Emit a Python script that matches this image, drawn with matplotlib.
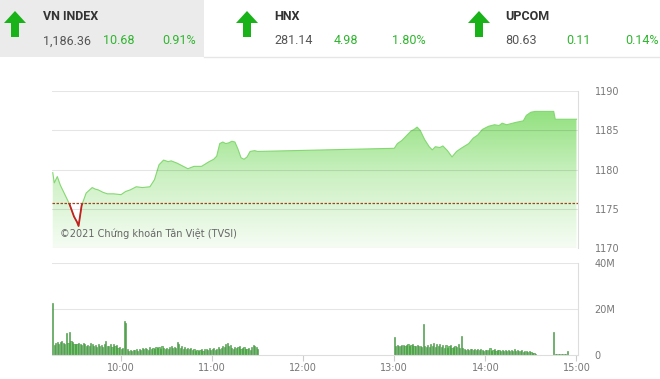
import numpy as np
import matplotlib.pyplot as plt
from matplotlib.colors import LinearSegmentedColormap
from matplotlib.patches import Polygon, Rectangle

# header indexes
idx_names = ['VN INDEX', 'HNX', 'UPCOM']
idx_values = ['1,186.36', '281.14', '80.63']
idx_changes = ['10.68', '4.98', '0.11']
idx_pcts = ['0.91%', '1.80%', '0.14%']

# VN-Index intraday (time, points)
price_times = ['09:15', '09:16', '09:18', '09:20', '09:23', '09:26', '09:29', '09:31', '09:32',
               '09:34', '09:37', '09:41', '09:43', '09:45', '09:48', '09:51', '09:55', '10:00',
               '10:03', '10:06', '10:10', '10:14', '10:19', '10:22', '10:25', '10:28', '10:31',
               '10:33', '10:37', '10:40', '10:44', '10:48', '10:53', '10:58', '11:01', '11:03',
               '11:05', '11:07', '11:09', '11:11', '11:13', '11:15', '11:17', '11:19', '11:21',
               '11:23', '11:25', '11:28', '11:30', '13:00', '13:02', '13:05', '13:08', '13:11',
               '13:13', '13:15', '13:17', '13:20', '13:23', '13:25', '13:27', '13:30', '13:32',
               '13:35', '13:38', '13:41', '13:44', '13:49', '13:52', '13:55', '13:58', '14:02',
               '14:06', '14:09', '14:11', '14:14', '14:16', '14:20', '14:25', '14:27', '14:30',
               '14:33', '14:45', '14:46', '15:00']
prices = [1179.6, 1178.3, 1179.1, 1178.0, 1176.8, 1175.6, 1174.0, 1173.3, 1172.8,
          1175.4, 1177.0, 1177.7, 1177.5, 1177.4, 1177.1, 1176.9, 1176.9, 1176.8,
          1177.2, 1177.4, 1177.8, 1177.7, 1177.8, 1178.7, 1180.6, 1181.2, 1181.0,
          1181.1, 1180.8, 1180.5, 1180.1, 1180.4, 1180.4, 1181.0, 1181.3, 1181.7,
          1183.3, 1183.5, 1183.3, 1183.4, 1183.6, 1183.5, 1182.6, 1181.5, 1181.3,
          1181.6, 1182.3, 1182.4, 1182.3, 1182.7, 1183.3, 1183.7, 1184.3, 1184.9,
          1185.1, 1185.4, 1185.0, 1183.8, 1182.9, 1182.5, 1182.9, 1182.8, 1183.0,
          1182.4, 1181.6, 1182.3, 1182.7, 1183.3, 1184.0, 1184.4, 1185.1, 1185.5,
          1185.7, 1185.6, 1185.9, 1185.7, 1185.8, 1186.0, 1186.2, 1186.9, 1187.3,
          1187.4, 1187.4, 1186.4, 1186.4]
ref_price = 1175.68

# volume per minute (millions)
vol_am_start = '09:15'
vol_am = [22.7, 4.5, 5.2, 5.8, 4.6, 5.5, 6.0, 5.3, 4.8, 9.6, 5.4, 9.9, 6.2, 5.5, 4.8,
          5.0, 4.6, 5.4, 4.8, 4.4, 5.2, 4.9, 3.8, 4.2, 4.0, 5.1, 4.6, 3.9, 4.3, 3.6,
          4.8, 3.9, 4.4, 3.5, 4.7, 6.2, 3.8, 4.1, 5.0, 3.4, 4.6, 3.9, 4.2, 3.1, 3.5,
          2.6, 3.0, 14.9, 13.8, 2.4, 1.9, 2.2, 1.8, 2.3, 2.0, 2.5, 1.9, 2.6, 2.2, 2.9,
          2.4, 3.1, 2.6, 2.2, 3.4, 2.8, 3.0, 2.5, 3.6, 2.9, 3.3, 2.4, 3.8, 3.1, 2.7,
          3.2, 2.8, 3.5, 4.1, 2.9, 3.6, 3.0, 5.6, 4.8, 3.2, 3.7, 2.8, 3.3, 2.6, 3.0,
          2.4, 2.9, 2.1, 2.6, 1.9, 2.3, 1.7, 2.2, 2.5, 1.8, 2.7, 2.4, 2.0, 2.9, 2.3,
          2.6, 3.2, 2.1, 2.8, 3.5, 2.5, 3.0, 4.1, 3.3, 4.8, 5.2, 3.9, 4.4, 3.2, 2.7,
          3.6, 2.9, 3.4, 3.8, 2.6, 3.1, 3.5, 2.8, 2.4, 3.0, 2.2, 3.6, 4.3, 4.0, 3.3,
          2.5]
vol_pm_start = '13:00'
vol_pm = [8.0, 3.9, 4.4, 4.1, 3.8, 4.2, 4.5, 3.9, 4.3, 4.6, 4.0, 4.4, 4.7, 4.1, 3.8,
          4.3, 3.7, 4.0, 3.6, 13.5, 3.9, 3.4, 4.2, 3.5, 4.8, 3.7, 5.1, 3.3, 4.6, 3.9,
          4.9, 3.5, 4.2, 3.1, 4.4, 3.2, 3.8, 4.3, 3.0, 3.6, 4.1, 3.4, 4.7, 3.2, 8.3,
          3.1, 2.6, 2.3, 2.8, 2.2, 2.5, 2.4, 2.1, 2.6, 2.3, 2.5, 2.0, 2.4, 2.2, 1.9,
          2.3, 2.0, 2.2, 3.0, 1.9, 2.1, 2.4, 1.8, 2.2, 2.0, 1.9, 2.3, 1.7, 2.1, 1.8,
          2.0, 1.9, 2.2, 1.6, 2.4, 1.8, 2.1, 1.7, 1.9, 2.2, 1.5, 1.8, 1.6, 1.4, 1.7,
          1.2, 1.0, 0.8, 0.6]
vol_atc_start = '14:45'
vol_atc = [9.9, 0.4, 0.3, 0.4, 0.3, 0.3, 0.4, 0.3, 0.3, 1.9, 0.2]

time_ticks = ['10:00', '11:00', '12:00', '13:00', '14:00', '15:00']


def to_min(s):
    h, m = s.split(':')
    return int(h) * 60 + int(m)


t = np.array([to_min(s) for s in price_times])
p = np.array(prices)

W, H = 660, 379
fig = plt.figure(figsize=(6.6, 3.79), dpi=100)


def px_axes(x0, y0, x1, y1):
    return fig.add_axes([x0 / W, 1 - y1 / H, (x1 - x0) / W, (y1 - y0) / H])


xmin, xmax = to_min('09:15') - 0.5, to_min('15:00') + 1
grid_c = (0, 0, 0, 0.1)
lab_c = '#777777'

# ---- header ----
hd = fig.add_axes([0, 0, 1, 1], zorder=-1)
hd.set_xlim(0, W)
hd.set_ylim(H, 0)
hd.axis('off')
hd.add_patch(Rectangle((0, 0), 204, 57, color='#ebebeb', lw=0))
hd.plot([204, W], [57, 57], color='#e6e6e6', lw=1)
green = '#19b319'
hfont = ['Liberation Sans Narrow', 'Roboto']
arrow_x = [15, 247, 479]
text_x = [43, 274, 505]
chg_x = [103, 334, 566]
pct_x = [162, 392, 625]
for i in range(3):
    cx = arrow_x[i]
    hd.add_patch(Polygon([(cx, 11), (cx + 11, 23), (cx + 4, 23), (cx + 4, 37),
                          (cx - 4, 37), (cx - 4, 23), (cx - 11, 23)],
                         closed=True, color=green, lw=0))
    hd.text(text_x[i], 16, idx_names[i], fontsize=9, fontweight='bold', color='#333333',
            va='center', ha='left', family=hfont)
    hd.text(text_x[i], 41, idx_values[i], fontsize=9, color='#555555',
            va='center', ha='left', family=hfont)
    hd.text(chg_x[i], 41, idx_changes[i], fontsize=9, color='#2fb52f',
            va='center', ha='left', family=hfont)
    hd.text(pct_x[i], 41, idx_pcts[i], fontsize=9, color='#2fb52f',
            va='center', ha='left', family=hfont)

# ---- price chart ----
ax = px_axes(52, 91, 578, 248)
ymin, ymax = 1170, 1190
poly = ax.fill_between(t, p, ymin, color='none', lw=0)
cmap = LinearSegmentedColormap.from_list('g', ['#f6fcf4', '#cdf1c4', '#8fe07b'])
grad = np.linspace(0, 1, 256).reshape(-1, 1)
im = ax.imshow(grad, extent=[xmin, xmax, ymin, max(prices) + 0.5], origin='lower',
               aspect='auto', cmap=cmap, zorder=1)
im.set_clip_path(poly.get_paths()[0], ax.transData)
ax.plot(t, p, color='#84d872', lw=0.8, zorder=2)
red = ax.plot(t, p, color='#c42020', lw=1.3, zorder=3)[0]
clip = Rectangle((xmin, ymin), xmax - xmin, ref_price - ymin, transform=ax.transData)
red.set_clip_path(clip)
for y in range(1170, 1191, 5):
    ax.axhline(y, color=grid_c, lw=0.8, zorder=2.5)
ax.axhline(ref_price, color='#a0461e', lw=0.9, ls=(0, (2, 1.2)), zorder=4)
ax.set_xlim(xmin, xmax)
ax.set_ylim(ymin, ymax)
for s in ['top', 'left', 'bottom']:
    ax.spines[s].set_visible(False)
ax.spines['right'].set_color('#dddddd')
ax.spines['right'].set_linewidth(0.8)
ax.set_xticks([])
ax.yaxis.tick_right()
ax.set_yticks(range(1170, 1191, 5))
ax.tick_params(axis='y', length=0, pad=12, labelsize=7, labelcolor=lab_c)
ax.text(0.015, 0.06, '©2021 Chứng khoán Tân Việt (TVSI)', transform=ax.transAxes,
        fontsize=7, color='#666666', ha='left', va='bottom', zorder=5)

# ---- volume chart ----
vx = px_axes(52, 263, 578, 355)
for start, vals in [(vol_am_start, vol_am), (vol_pm_start, vol_pm), (vol_atc_start, vol_atc)]:
    tt = to_min(start) + np.arange(len(vals))
    vx.bar(tt, vals, width=0.75, color='#74c96a', edgecolor='#3d8c3d', lw=0.4, zorder=2)
for y in [20, 40]:
    vx.axhline(y, color=grid_c, lw=0.8, zorder=1)
vx.set_xlim(xmin, xmax)
vx.set_ylim(0, 40)
vx.spines['top'].set_visible(False)
vx.spines['left'].set_visible(False)
vx.spines['right'].set_color('#dddddd')
vx.spines['bottom'].set_color('#dddddd')
vx.spines['right'].set_linewidth(0.8)
vx.spines['bottom'].set_linewidth(0.8)
vx.yaxis.tick_right()
vx.set_yticks([0, 20, 40])
vx.set_yticklabels(['0', '20M', '40M'])
vx.tick_params(axis='y', length=0, pad=12, labelsize=7, labelcolor=lab_c)
vx.set_xticks([to_min(s) for s in time_ticks])
vx.set_xticklabels(time_ticks)
vx.tick_params(axis='x', length=4, color='#cccccc', labelsize=7, labelcolor=lab_c, pad=2)

fig.savefig('out.png', dpi=100)
